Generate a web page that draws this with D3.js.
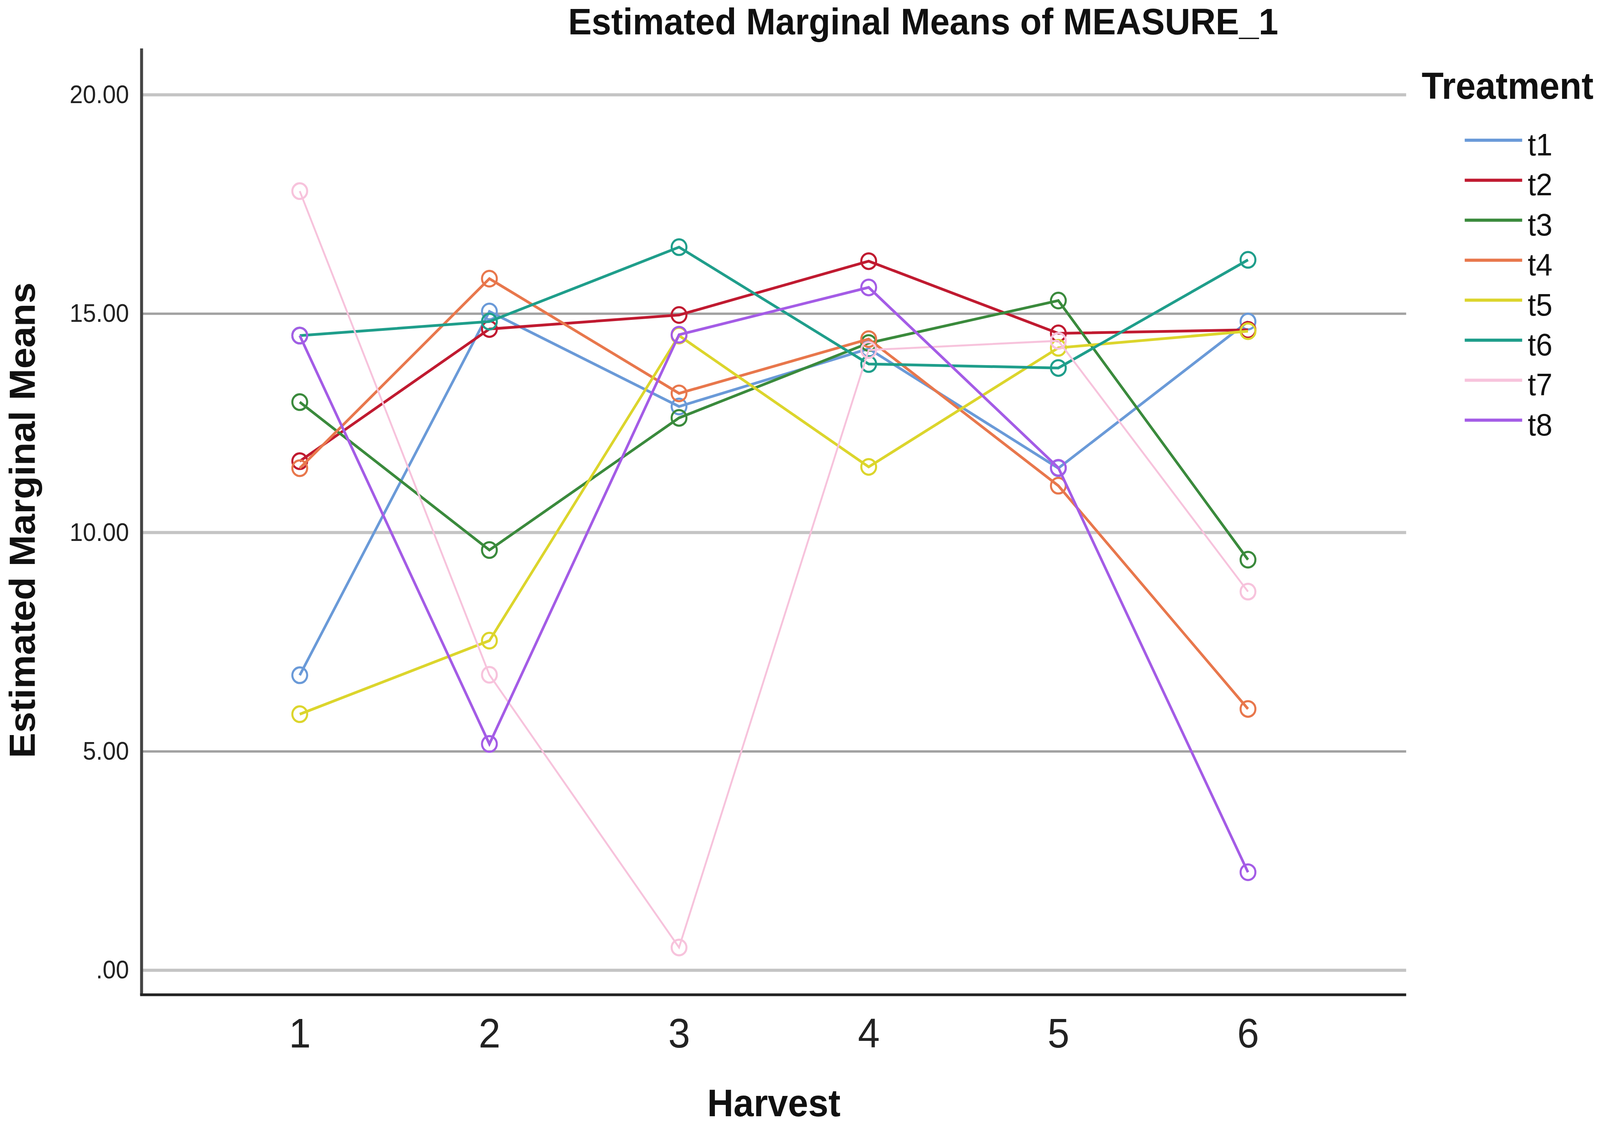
<!DOCTYPE html>
<html>
<head>
<meta charset="utf-8">
<script src="https://cdnjs.cloudflare.com/ajax/libs/d3/7.8.5/d3.min.js"></script>
<style>
  html, body { margin: 0; padding: 0; width: 100%; height: 100%; overflow: hidden; background: #fff; }
  svg { display: block; width: 100vw; height: 100vh; font-family: 'Liberation Sans', Arial, sans-serif; }
</style>
</head>
<body>
<svg id="chart"></svg>
<script>

  // data
  var harvests = ['1', '2', '3', '4', '5', '6'];
  var treatments = ['t1', 't2', 't3', 't4', 't5', 't6', 't7', 't8'];
  var yTicks = [0, 5, 10, 15, 20];

  var t1 = [6.74, 15.05, 12.88, 14.20, 11.47, 14.82];
  var t2 = [11.63, 14.65, 14.97, 16.20, 14.55, 14.63];
  var t3 = [12.98, 9.60, 12.62, 14.33, 15.30, 9.38];
  var t4 = [11.47, 15.80, 13.18, 14.42, 11.07, 5.97];
  var t5 = [5.85, 7.53, 14.50, 11.50, 14.22, 14.60];
  var t6 = [14.50, 14.82, 16.52, 13.85, 13.76, 16.23];
  var t7 = [17.80, 6.75, 0.52, 14.17, 14.38, 8.65];
  var t8 = [14.50, 5.17, 14.52, 15.60, 11.48, 2.24];

  var seriesValues = [t1, t2, t3, t4, t5, t6, t7, t8];
  var colors = ['#6a9ad8', '#c01a30', '#3a8a3c', '#e8774c', '#dcd52c', '#1f9e8b', '#f7c3dc', '#a45ce6'];

  var W = 4317, H = 2883;
  var plot = {left: 382, right: 3794, top: 124, bottom: 2547};

  // drawn in a fixed 4317x2883 frame, stretched to fill the window
  var svg = d3.select('#chart')
      .attr('viewBox', '0 0 ' + W + ' ' + H)
      .attr('preserveAspectRatio', 'none');

  svg.append('rect')
      .attr('width', W)
      .attr('height', H)
      .attr('fill', '#fff');

  var x = d3.scalePoint()
      .domain(harvests)
      .range([plot.left, plot.right])
      .padding(0.834);

  var y = d3.scaleLinear()
      .domain([-0.56, 21.06])
      .range([plot.bottom, plot.top]);

  // horizontal grid lines
  svg.append('g')
      .attr('class', 'grid')
      .selectAll('line')
      .data(yTicks)
      .enter()
      .append('line')
      .attr('x1', plot.left)
      .attr('x2', plot.right)
      .attr('y1', function(d) { return y(d); })
      .attr('y2', function(d) { return y(d); })
      .attr('stroke', function(d) { return d % 10 === 0 ? '#c4c4c4' : '#a2a2a2'; })
      .attr('stroke-width', function(d) { return d % 10 === 0 ? 8 : 6; });

  // y axis
  var yAxis = d3.axisLeft(y)
      .tickValues(yTicks)
      .tickSize(0)
      .tickPadding(34)
      .tickFormat(function(d) { return d === 0 ? '.00' : d3.format('.2f')(d); });

  var yG = svg.append('g')
      .attr('transform', 'translate(' + plot.left + ',0)')
      .call(yAxis);
  yG.select('.domain').remove();
  yG.selectAll('text')
      .attr('font-size', 64)
      .attr('font-family', "'Liberation Sans', Arial, sans-serif")
      .attr('fill', '#222');

  // x axis
  var xAxis = d3.axisBottom(x)
      .tickSize(0)
      .tickPadding(60);

  var xG = svg.append('g')
      .attr('transform', 'translate(0,' + plot.bottom + ')')
      .call(xAxis);
  xG.select('.domain').remove();
  xG.selectAll('text')
      .attr('font-size', 106)
      .attr('font-family', "'Liberation Sans', Arial, sans-serif")
      .attr('fill', '#222');

  // axis lines
  svg.append('line')
      .attr('x1', plot.left).attr('x2', plot.left)
      .attr('y1', plot.top).attr('y2', plot.bottom)
      .attr('stroke', '#444').attr('stroke-width', 8);
  svg.append('line')
      .attr('x1', plot.left - 4).attr('x2', plot.right)
      .attr('y1', plot.bottom).attr('y2', plot.bottom)
      .attr('stroke', '#222').attr('stroke-width', 7);

  // series
  var line = d3.line()
      .x(function(d, i) { return x(harvests[i]); })
      .y(function(d) { return y(d); });

  var series = svg.append('g')
      .attr('class', 'series')
      .selectAll('g')
      .data(seriesValues)
      .enter()
      .append('g');

  series.append('path')
      .attr('d', function(d) { return line(d); })
      .attr('fill', 'none')
      .attr('stroke', function(d, i) { return colors[i]; })
      .attr('stroke-width', function(d, i) { return i === 6 ? 5 : 7; });

  series.selectAll('circle')
      .data(function(d, i) { return d.map(function(v) { return {v: v, s: i}; }); })
      .enter()
      .append('circle')
      .attr('cx', function(d, j) { return x(harvests[j]); })
      .attr('cy', function(d) { return y(d.v); })
      .attr('r', 20)
      .attr('fill', 'none')
      .attr('stroke', function(d) { return colors[d.s]; })
      .attr('stroke-width', 5.5);

  // titles (kept just inside the frame edges)
  svg.append('text')
      .attr('x', 2491)
      .attr('y', 88)
      .attr('text-anchor', 'middle')
      .attr('font-size', 95)
      .attr('font-weight', 'bold')
      .attr('fill', '#111')
      .text('Estimated Marginal Means of MEASURE_1');

  svg.append('text')
      .attr('x', (plot.left + plot.right) / 2)
      .attr('y', 2858)
      .attr('text-anchor', 'middle')
      .attr('font-size', 98)
      .attr('font-weight', 'bold')
      .attr('fill', '#111')
      .text('Harvest');

  svg.append('text')
      .attr('transform', 'translate(94,1332) rotate(-90)')
      .attr('text-anchor', 'middle')
      .attr('font-size', 97)
      .attr('font-weight', 'bold')
      .attr('fill', '#111')
      .text('Estimated Marginal Means');

  // legend
  var legend = svg.append('g').attr('class', 'legend');

  legend.append('text')
      .attr('x', 3836)
      .attr('y', 253)
      .attr('font-size', 97)
      .attr('font-weight', 'bold')
      .attr('fill', '#111')
      .text('Treatment');

  var items = legend.selectAll('.item')
      .data(treatments)
      .enter()
      .append('g')
      .attr('class', 'item')
      .attr('transform', function(d, i) { return 'translate(0,' + (359 + i * 102.4) + ')'; });

  items.append('line')
      .attr('x1', 3952)
      .attr('x2', 4107)
      .attr('stroke', function(d, i) { return colors[i]; })
      .attr('stroke-width', 8);

  items.append('text')
      .attr('x', 4122)
      .attr('y', 39)
      .attr('font-size', 80)
      .attr('fill', '#111')
      .text(function(d) { return d; });

</script>
</body>
</html>
